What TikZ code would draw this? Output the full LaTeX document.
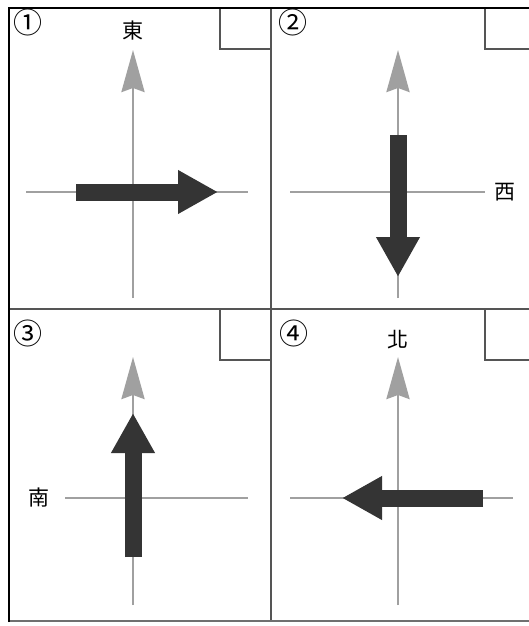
\documentclass[tikz,border=0pt]{standalone}
\usepackage{fontspec}
\newfontfamily\cjk{Noto Sans CJK TC}
\usepackage{tikz}
\usetikzlibrary{arrows.meta, positioning}
\usepackage{xcolor}
\definecolor{axisgray}{RGB}{160,160,160}
\definecolor{arrowdark}{RGB}{52,52,52}
\definecolor{framegray}{RGB}{85,85,85}

\begin{document}
\begin{tikzpicture}[x=1pt, y=-1pt,
    outer/.style={line width=2.4pt, black},
    inner/.style={line width=1.3pt, framegray},
    axis/.style={line width=2.8pt, axisgray},
    axisarrow/.style={axis, -{Stealth[length=42pt, width=23pt, inset=4pt]}},
    bigarrow/.style={line width=17pt, arrowdark, -{Triangle[length=40pt, width=41pt]}},
    dirlabel/.style={font=\cjk\fontsize{21}{21}\selectfont, inner sep=0pt},
    numlabel/.style={font=\cjk\fontsize{29}{29}\selectfont, inner sep=0pt}]
    \useasboundingbox (0,0) rectangle (529,626);
    \fill[white] (0,0) rectangle (529,626);
    % frame and the empty boxes
    \draw[inner] (271,8) -- (271,621);
    \draw[inner] (9,309) -- (529,309);
    \draw[inner, axisgray!70!black] (9,621) -- (529,621);
    \draw[inner] (220,8) |- (271,49);
    \draw[inner] (485,8) |- (529,49);
    \draw[inner] (220,309) |- (271,360);
    \draw[inner] (485,309) |- (529,360);
    \draw[outer] (9,622) -- (9,8) -- (529,8);
    % panel 1
    \coordinate (w1) at (26,192);
    \coordinate (e1) at (248,192);
    \coordinate (s1) at (133,298);
    \coordinate (n1) at (133,50);
    \coordinate (a1from) at (76,192);
    \coordinate (a1to) at (218,192);
    \draw[axis] (w1) -- (e1);
    \draw[axisarrow] (s1) -- (n1);
    \draw[bigarrow] (a1from) -- (a1to);
    \node[numlabel] (num1) at (28,22) {①};
    \node[dirlabel] (east) at (133,31) {東};
    % panel 2
    \coordinate (w2) at (290,192);
    \coordinate (e2) at (485,192);
    \coordinate (s2) at (398,298);
    \coordinate (n2) at (398,50);
    \coordinate (a2from) at (398,135);
    \coordinate (a2to) at (398,277);
    \draw[axis] (w2) -- (e2);
    \draw[axisarrow] (s2) -- (n2);
    \draw[bigarrow] (a2from) -- (a2to);
    \node[numlabel] (num2) at (293,22) {②};
    \node[dirlabel] (west) at (505,192) {西};
    % panel 3
    \coordinate (w3) at (65,498);
    \coordinate (e3) at (248,498);
    \coordinate (s3) at (133,605);
    \coordinate (n3) at (133,357);
    \coordinate (a3from) at (133,557);
    \coordinate (a3to) at (133,413);
    \draw[axis] (w3) -- (e3);
    \draw[axisarrow] (s3) -- (n3);
    \draw[bigarrow] (a3from) -- (a3to);
    \node[numlabel] (num3) at (28,333) {③};
    \node[dirlabel] (south) at (39,498) {南};
    % panel 4
    \coordinate (w4) at (290,498);
    \coordinate (e4) at (513,498);
    \coordinate (s4) at (398,605);
    \coordinate (n4) at (398,357);
    \coordinate (a4from) at (483,498);
    \coordinate (a4to) at (342,498);
    \draw[axis] (w4) -- (e4);
    \draw[axisarrow] (s4) -- (n4);
    \draw[bigarrow] (a4from) -- (a4to);
    \node[numlabel] (num4) at (294,333) {④};
    \node[dirlabel] (north) at (398,340) {北};
\end{tikzpicture}
\end{document}
